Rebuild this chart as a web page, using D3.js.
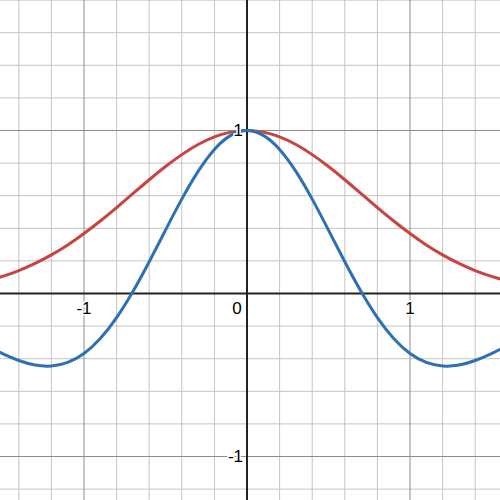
<!DOCTYPE html>
<html>
<head>
<meta charset="utf-8">
<script src="https://cdn.jsdelivr.net/npm/d3@7"></script>
<style>
  html, body { margin: 0; padding: 0; background: #fff; }
  svg { display: block; }
</style>
</head>
<body>
<div id="chart"></div>
<script>
const width = 500, height = 500;

// sample positions (x) and the two curves
const xs = [-1.6, -1.5, -1.4, -1.3, -1.2, -1.1, -1.0, -0.9, -0.8, -0.7, -0.6, -0.5, -0.4, -0.3, -0.2, -0.1,
            0, 0.1, 0.2, 0.3, 0.4, 0.5, 0.6, 0.7, 0.8, 0.9, 1.0, 1.1, 1.2, 1.3, 1.4, 1.5, 1.6];
const red_vals = [0.077, 0.105, 0.141, 0.185, 0.237, 0.298, 0.368, 0.445, 0.527, 0.613, 0.698, 0.779, 0.852, 0.914, 0.961, 0.990,
                  1.000, 0.990, 0.961, 0.914, 0.852, 0.779, 0.698, 0.613, 0.527, 0.445, 0.368, 0.298, 0.237, 0.185, 0.141, 0.105, 0.077];
const blue_vals = [-0.318, -0.369, -0.411, -0.439, -0.445, -0.423, -0.368, -0.276, -0.148, 0.012, 0.195, 0.389, 0.579, 0.749, 0.884, 0.970,
                   1.000, 0.970, 0.884, 0.749, 0.579, 0.389, 0.195, 0.012, -0.148, -0.276, -0.368, -0.423, -0.445, -0.439, -0.411, -0.369, -0.318];

const x_ticks = [-1, 0, 1];
const y_ticks = [-1, 1];

const unit = 163;
const x0 = 247, y0 = 293.5;
const x = d3.scaleLinear().domain([-x0 / unit, (width - x0) / unit]).range([0, width]);
const y = d3.scaleLinear().domain([-(height - y0) / unit, y0 / unit]).range([height, 0]);

const svg = d3.select("#chart").append("svg")
    .attr("width", width)
    .attr("height", height)
    .style("background", "#fff");

// grid: minor every 0.2, major every 1
const minor_x = d3.range(Math.ceil(x.domain()[0] * 5), Math.floor(x.domain()[1] * 5) + 1).map(d => d / 5);
const minor_y = d3.range(Math.ceil(y.domain()[0] * 5), Math.floor(y.domain()[1] * 5) + 1).map(d => d / 5);

const grid = svg.append("g");
grid.selectAll(".vx").data(minor_x.filter(d => Math.round(d * 5) % 5 != 0)).enter()
    .append("line")
    .attr("x1", d => x(d)).attr("x2", d => x(d))
    .attr("y1", 0).attr("y2", height)
    .attr("stroke", "#c4c4c4").attr("stroke-width", 1);
grid.selectAll(".hy").data(minor_y.filter(d => Math.round(d * 5) % 5 != 0)).enter()
    .append("line")
    .attr("y1", d => y(d)).attr("y2", d => y(d))
    .attr("x1", 0).attr("x2", width)
    .attr("stroke", "#c4c4c4").attr("stroke-width", 1);
grid.selectAll(".mx").data(minor_x.filter(d => Math.round(d * 5) % 5 == 0 && Math.round(d) != 0)).enter()
    .append("line")
    .attr("x1", d => x(d)).attr("x2", d => x(d))
    .attr("y1", 0).attr("y2", height)
    .attr("stroke", "#8c8c8c").attr("stroke-width", 1);
grid.selectAll(".my").data(minor_y.filter(d => Math.round(d * 5) % 5 == 0 && Math.round(d) != 0)).enter()
    .append("line")
    .attr("y1", d => y(d)).attr("y2", d => y(d))
    .attr("x1", 0).attr("x2", width)
    .attr("stroke", "#8c8c8c").attr("stroke-width", 1);

// axes
svg.append("line")
    .attr("x1", 0).attr("x2", width)
    .attr("y1", y(0)).attr("y2", y(0))
    .attr("stroke", "#222").attr("stroke-width", 2);
svg.append("line")
    .attr("x1", x(0)).attr("x2", x(0))
    .attr("y1", 0).attr("y2", height)
    .attr("stroke", "#222").attr("stroke-width", 2);

// curves
const line = d3.line()
    .x((d, i) => x(xs[i]))
    .y(d => y(d))
    .curve(d3.curveNatural);

svg.append("path")
    .attr("d", line(red_vals))
    .attr("fill", "none")
    .attr("stroke", "#c74440")
    .attr("stroke-width", 3);

svg.append("path")
    .attr("d", line(blue_vals))
    .attr("fill", "none")
    .attr("stroke", "#2d70b3")
    .attr("stroke-width", 3);

// tick labels
const font = "Arial, 'Liberation Sans', sans-serif";
svg.append("g").selectAll("text").data(x_ticks).enter()
    .append("text")
    .attr("x", d => d == 0 ? x(0) - 10 : x(d))
    .attr("y", y(0) + 20)
    .attr("text-anchor", "middle")
    .attr("font-family", font)
    .attr("font-size", 17)
    .attr("fill", "#000")
    .attr("stroke", "#fff").attr("stroke-width", 3).attr("paint-order", "stroke")
    .text(d => d < 0 ? "-" + Math.abs(d) : d);

svg.append("g").selectAll("text").data(y_ticks).enter()
    .append("text")
    .attr("x", x(0) - 4)
    .attr("y", d => y(d))
    .attr("dy", "0.35em")
    .attr("text-anchor", "end")
    .attr("font-family", font)
    .attr("font-size", 17)
    .attr("fill", "#000")
    .attr("stroke", "#fff").attr("stroke-width", 3).attr("paint-order", "stroke")
    .text(d => d < 0 ? "-" + Math.abs(d) : d);
</script>
</body>
</html>
